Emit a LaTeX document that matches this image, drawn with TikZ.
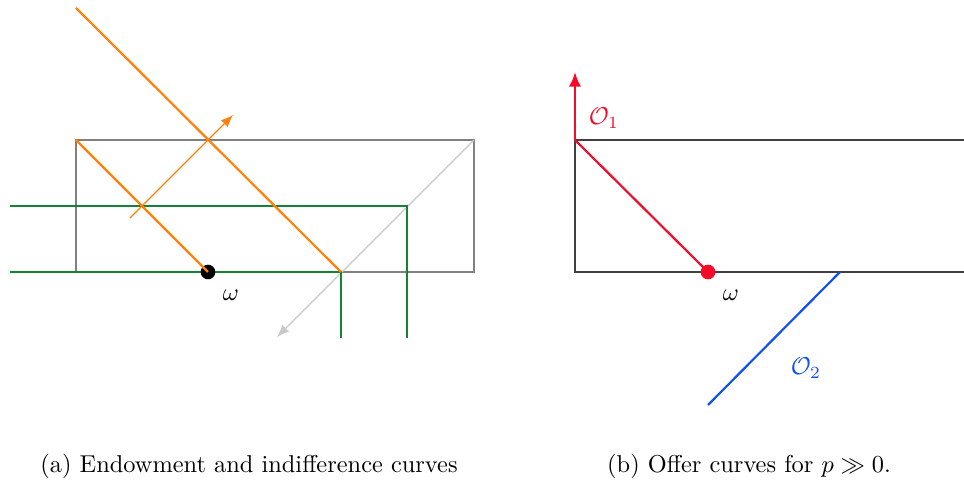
\documentclass[tikz,border=0pt]{standalone}
\usetikzlibrary{arrows.meta}
\definecolor{myorange}{RGB}{255,128,10}
\definecolor{mygreen}{RGB}{20,130,55}
\definecolor{myred}{RGB}{245,10,40}
\definecolor{myblue}{RGB}{20,80,240}
\definecolor{lightgray}{RGB}{200,200,200}
\tikzset{
  box/.style={draw=gray, line width=0.45pt},
  boxb/.style={draw=black!75, line width=0.45pt},
  indiff/.style={draw=mygreen, line width=0.9pt},
  budget/.style={draw=myorange, line width=0.9pt},
  thinarrow/.style={draw=myorange, line width=0.45pt, -{Latex[length=5pt,width=4pt]}},
  diagarrow/.style={draw=lightgray, line width=0.45pt, -{Latex[length=5pt,width=4pt]}},
  dot/.style={circle, fill=#1, inner sep=0pt, minimum size=6pt},
  lbl/.style={inner sep=1pt}
}
\begin{document}
\begin{tikzpicture}[x=0.41pt,y=-0.41pt]
\useasboundingbox (0,0) rectangle (964,483);
% ---------- left panel ----------
\coordinate (A1) at (76,140);
\coordinate (A2) at (474,140);
\coordinate (A3) at (474,272);
\coordinate (A4) at (76,272);
\draw[box] (A1) -- (A2) -- (A3) -- (A4) -- cycle;
\coordinate (G1s) at (10,272);
\coordinate (G1c) at (341,272);
\coordinate (G1e) at (341,338);
\coordinate (G2s) at (10,206);
\coordinate (G2c) at (407,206);
\coordinate (G2e) at (407,338);
\coordinate (Lt) at (76,8);
\coordinate (Ad) at (130,218);
\coordinate (Ah) at (233,115);
\coordinate (Dg) at (277,337);
\draw[diagarrow] (A2) -- (Dg);
\draw[indiff] (G1s) -- (G1c) -- (G1e);
\draw[indiff] (G2s) -- (G2c) -- (G2e);
\node[dot=black] (w1) at (208,272) {};
\draw[budget] (Lt) -- (G1c);
\draw[budget] (A1) -- (w1.center);
\draw[thinarrow] (Ad) -- (Ah);
\node[lbl] (wl1) at (231,295) {$\omega$};
% ---------- right panel ----------
\coordinate (B1) at (575,140);
\coordinate (B2) at (964,140);
\coordinate (B3) at (964,272);
\coordinate (B4) at (575,272);
\draw[boxb] (B2) -- (B1) -- (B4) -- (B3);
\coordinate (Rt) at (575,72);
\draw[myred, line width=0.9pt, -{Latex[length=6pt,width=5pt]}] (B1) -- (Rt);
\node[dot=myred] (w2) at (708,272) {};
\draw[myred, line width=0.9pt] (B1) -- (w2.center);
\node[lbl, text=myred] (o1) at (604,118) {$\mathcal{O}_1$};
\node[lbl] (wl2) at (731,295) {$\omega$};
\coordinate (Bs) at (840,272);
\coordinate (Be) at (708,405);
\draw[myblue, line width=0.9pt] (Bs) -- (Be);
\node[lbl, text=myblue] (o2) at (806,368) {$\mathcal{O}_2$};
% ---------- captions ----------
\node (capa) at (249,466) {(a) Endowment and indifference curves};
\node (capb) at (749,466) {(b) Offer curves for $p \gg 0$.};
\end{tikzpicture}
\end{document}
